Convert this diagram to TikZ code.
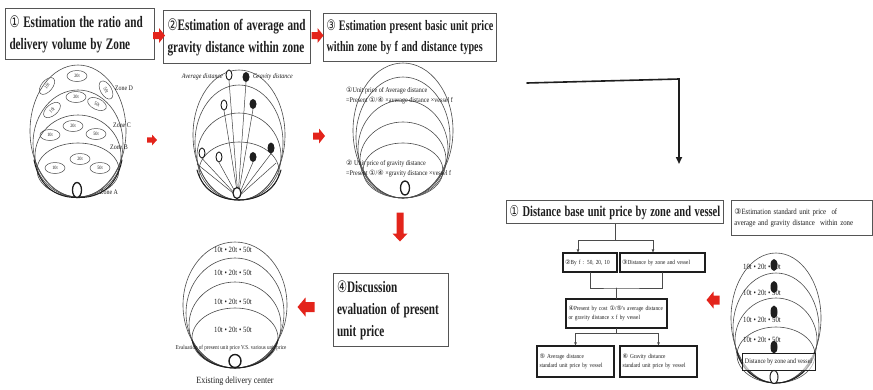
\documentclass[tikz,border=0pt]{standalone}
\usepackage{fontspec}
\usepackage{graphicx}
\setmainfont{Liberation Serif}
\newfontfamily\narrowfont[FakeStretch=0.85]{Liberation Serif}
\newfontfamily\symfont{DejaVu Sans}
\usetikzlibrary{arrows.meta,shapes.geometric}
\definecolor{arrowred}{HTML}{E3241B}
\definecolor{boxline}{HTML}{555555}
\definecolor{ink}{HTML}{1E1E1E}
% condensed line of heading text
\newcommand\squeeze[1]{\scalebox{0.7}[1]{#1}}
% red block arrow: centre, angle, half length, head half width, shaft half width, head length
\newcommand\redblock[6]{\fill[arrowred,shift={#1},rotate=#2] (-#3,-#5) -- ({#3-#6},-#5) -- ({#3-#6},-#4) -- (#3,0) -- ({#3-#6},#4) -- ({#3-#6},#5) -- (-#3,#5) -- cycle;}
\begin{document}
\begin{tikzpicture}[x=1pt,y=-1pt,line cap=round,
  title/.style={draw=boxline,line width=1pt,fill=white,inner sep=0pt,align=left,text=ink,
    font=\bfseries\fontsize{16}{22}\selectfont},
  note/.style={draw=boxline,line width=0.8pt,fill=white,inner sep=0pt,align=left,text=ink,
    font=\narrowfont\fontsize{8}{11}\selectfont},
  flowbox/.style={draw=ink,line width=1.1pt,fill=white,inner sep=0pt,align=left,text=ink,
    font=\narrowfont\fontsize{6.2}{9}\selectfont},
  zone/.style={draw=ink!80,line width=0.6pt},
  bold zone/.style={draw=ink,line width=1pt},
  zoval/.style={draw=ink!80,line width=0.5pt,ellipse,inner sep=0pt,minimum width=20pt,minimum height=11pt,
    font=\narrowfont\fontsize{5}{5}\selectfont,text=ink},
  lbl/.style={inner sep=0pt,text=ink,font=\narrowfont\fontsize{7}{8}\selectfont},
  tiny/.style={inner sep=0pt,text=ink,align=left,font=\narrowfont\fontsize{7.2}{10}\selectfont},
  tons/.style={inner sep=0pt,text=ink,font=\narrowfont\fontsize{8}{8}\selectfont},
  hollow/.style={draw=ink,line width=0.9pt,fill=white},
  solid/.style={fill=ink},
  ray/.style={draw=ink!85,line width=0.5pt},
  flow/.style={draw=ink!80,line width=0.6pt},
  flowarrow/.style={flow,-{Triangle[length=3pt,width=2.5pt]}},
  turn/.style={draw=ink,line width=1.6pt,-{Triangle[length=7pt,width=6pt]}}]
\useasboundingbox (0,0) rectangle (873,389);

% ---------- step titles ----------
\node[title,minimum width=149pt,minimum height=51pt,text width=141pt,anchor=north west] (b1) at (5,8)
  {\squeeze{{\symfont\mdseries ①} Estimation the ratio and}\\\squeeze{delivery volume by Zone}};
\node[title,minimum width=147pt,minimum height=53pt,text width=139pt,anchor=north west] (b2) at (163,10)
  {\squeeze{{\symfont\mdseries ②}Estimation of average and}\\\squeeze{gravity distance within zone}};
\node[title,minimum width=173pt,minimum height=48pt,text width=167pt,anchor=north west,
  font=\bfseries\fontsize{14.5}{21}\selectfont] (b3) at (323,13)
  {\squeeze{{\symfont\mdseries ③} Estimation present basic unit price}\\\squeeze{within zone by f and distance types}};
\node[title,minimum width=115pt,minimum height=73pt,text width=108pt,anchor=north west] (b4) at (333,273)
  {\squeeze{{\symfont\mdseries ④}Discussion}\\\squeeze{evaluation of present}\\\squeeze{unit price}};
\node[title,line width=1.3pt,minimum width=217pt,minimum height=23pt,text width=211pt,anchor=north west,
  font=\bfseries\fontsize{15}{18}\selectfont] (b5) at (506,200)
  {\squeeze{{\symfont\mdseries ①} Distance base unit price by zone and vessel}};
\node[note,minimum width=141pt,minimum height=35pt,text width=135pt,anchor=north west] (b6) at (731,200)
  {\mbox{{\symfont ③}Estimation standard unit price \ of}\\\mbox{average and gravity distance \ within zone}};

% ---------- red block arrows ----------
\redblock{(159,35.5)}{0}{6}{7.5}{3.5}{6}
\redblock{(317.5,35.5)}{0}{6}{7.5}{3.5}{6}
\redblock{(152,140)}{0}{5}{5.5}{2.7}{5}
\redblock{(319,136)}{0}{6}{7.5}{3.5}{6}
\redblock{(400,227)}{-90}{14.5}{7.5}{3.5}{8}
\redblock{(306,307)}{180}{8.5}{9.5}{5}{8}
\redblock{(713,300)}{180}{6.5}{8.5}{4.5}{7}

% ---------- zones and lots by vessel size ----------
\draw[zone] (78,131) ellipse [x radius=48pt,y radius=66pt];
\draw[zone] (78,143.5) ellipse [x radius=45pt,y radius=53.5pt];
\draw[zone] (78,156) ellipse [x radius=43pt,y radius=41pt];
\draw[zone] (78,170) ellipse [x radius=41pt,y radius=27pt];
\draw[bold zone] (34,160) .. controls (40,190) and (60,198) .. (78,197.5) .. controls (96,198) and (116,190) .. (122,160);
\node[zoval,rotate=50] (d10) at (47,86) {10t};
\node[zoval] (d20) at (77,76) {20t};
\node[zoval,rotate=-60] (d50) at (106,90) {50t};
\node[zoval,rotate=40] (c10) at (52,110) {10t};
\node[zoval] (c20) at (76,97) {20t};
\node[zoval,rotate=-25] (c50) at (97,104) {50t};
\node[zoval] (bb10) at (50,135) {10t};
\node[zoval] (bb20) at (73,126) {20t};
\node[zoval] (bb50) at (96,134) {50t};
\node[zoval] (a10) at (55,168) {10t};
\node[zoval] (a20) at (80,159) {20t};
\node[zoval] (a50) at (100,168) {50t};
\node[lbl] (zd) at (124,88) {Zone D};
\node[lbl] (zc) at (122,125) {Zone C};
\node[lbl] (zb) at (119,147) {Zone B};
\node[lbl] (za) at (109,192) {Zone A};
\draw[line width=1.3pt,draw=ink,fill=white] (77,190) ellipse [x radius=4.5pt,y radius=7.5pt];

% ---------- average and gravity distance ----------
\draw[zone] (239,135) ellipse [x radius=46pt,y radius=65pt];
\draw[zone] (239,142.5) ellipse [x radius=44pt,y radius=57.5pt];
\draw[zone] (239,156.5) ellipse [x radius=42pt,y radius=43.5pt];
\draw[zone] (239,171) ellipse [x radius=40pt,y radius=29pt];
\draw[bold zone] (197,170) .. controls (203,192) and (222,200) .. (239,200) .. controls (256,200) and (275,192) .. (281,170);
\coordinate (dc) at (238,197);
\node[hollow,ellipse,inner sep=0pt,minimum width=6pt,minimum height=10pt] (h1) at (229,75) {};
\node[solid,ellipse,inner sep=0pt,minimum width=7pt,minimum height=10pt] (s1) at (246,77) {};
\node[hollow,ellipse,inner sep=0pt,minimum width=6pt,minimum height=10pt] (h2) at (224,105) {};
\node[solid,ellipse,inner sep=0pt,minimum width=7pt,minimum height=10pt] (s2) at (253,104) {};
\node[hollow,ellipse,inner sep=0pt,minimum width=6pt,minimum height=10pt] (h3) at (202,153) {};
\node[hollow,ellipse,inner sep=0pt,minimum width=6pt,minimum height=10pt] (h4) at (219,157) {};
\node[solid,ellipse,inner sep=0pt,minimum width=7pt,minimum height=10pt] (s3) at (253,157) {};
\node[solid,ellipse,inner sep=0pt,minimum width=7pt,minimum height=11pt] (s4) at (271,148) {};
\foreach \m in {h1,s1,h2,s2,h3,h4,s3,s4} \draw[ray] (dc) -- (\m.south);
\coordinate (rl) at (197,164);
\coordinate (rr) at (276,163);
\draw[ray] (dc) -- (rl);
\draw[ray] (dc) -- (rr);
\draw[line width=1.2pt,draw=ink,fill=white] (237,193) ellipse [x radius=4pt,y radius=5.5pt];
\node[lbl,font=\narrowfont\itshape\fontsize{7}{8}\selectfont,anchor=east] (avgl) at (223,77) {Average distance};
\node[lbl,font=\narrowfont\itshape\fontsize{7}{8}\selectfont,anchor=west] (grvl) at (253,77) {Gravity distance};

% ---------- present unit price by distance type ----------
\draw[zone] (403,130.5) ellipse [x radius=50pt,y radius=67.5pt];
\draw[zone] (403,137.5) ellipse [x radius=47pt,y radius=60.5pt];
\draw[zone] (403,149) ellipse [x radius=45pt,y radius=49pt];
\draw[zone] (403,160) ellipse [x radius=43pt,y radius=38pt];
\draw[zone] (403,170.5) ellipse [x radius=40pt,y radius=27.5pt];
\node[tiny,anchor=north west] (avgtxt) at (346,87)
  {{\symfont ①}Unit price of Average distance\\=Present {\symfont ①}/{\symfont ④} ×average distance ×vessel f};
\node[tiny,anchor=north west] (grvtxt) at (346,160)
  {{\symfont ②} Unit price of gravity distance\\=Present {\symfont ①}/{\symfont ④} ×gravity distance ×vessel f};
\draw[line width=1.3pt,draw=ink,fill=white] (405,188) ellipse [x radius=4.5pt,y radius=7pt];

% ---------- evaluation against the existing centre ----------
\draw[zone] (235,305) ellipse [x radius=52pt,y radius=63pt];
\draw[zone] (235,313) ellipse [x radius=49pt,y radius=55pt];
\draw[zone] (235,325) ellipse [x radius=46pt,y radius=43pt];
\draw[zone] (235,338) ellipse [x radius=43pt,y radius=30pt];
\draw[bold zone] (192,340) .. controls (198,360) and (218,368) .. (235,368) .. controls (252,368) and (272,360) .. (278,340);
\node[tons] (e1) at (233,250) {10t • 20t • 50t};
\node[tons] (e2) at (233,273) {10t • 20t • 50t};
\node[tons] (e3) at (233,302) {10t • 20t • 50t};
\node[tons] (e4) at (233,330) {10t • 20t • 50t};
\node[tons,font=\narrowfont\fontsize{6}{7}\selectfont] (evtxt) at (231,348) {Evaluation of present unit price V.S. various unit price};
\draw[line width=1.4pt,draw=ink,fill=white] (235,361) ellipse [x radius=6pt,y radius=6.5pt];
\node[lbl,font=\narrowfont\fontsize{9.5}{10}\selectfont] (exist) at (235,381) {Existing delivery center};

% ---------- turn towards the standard price ----------
\coordinate (tl) at (527,83);
\coordinate (tc) at (679,79);
\coordinate (tb) at (679,164);
\draw[turn] (tl) -- (tc) -- (tb);

% ---------- standard unit price flow ----------
\node[flowbox,minimum width=54pt,minimum height=19pt,text width=50pt] (fa) at (590,262.5)
  {\mbox{{\symfont ②}By f : 50, 20, 10}};
\node[flowbox,minimum width=85pt,minimum height=19pt,text width=81pt] (fb) at (662.5,262.5)
  {\mbox{{\symfont ③}Distance by zone and vessel}};
\node[flowbox,minimum width=101pt,minimum height=29pt,text width=96pt] (fc) at (616.5,313.5)
  {\mbox{{\symfont ④}Present by cost {\symfont ①}/{\symfont ⑤}'s average distance}\\\mbox{or gravity distance x f by vessel}};
\node[flowbox,minimum width=77pt,minimum height=31pt,text width=72pt] (fd) at (575.5,361.5)
  {\mbox{{\symfont ⑤} Average distance}\\\mbox{standard unit price by vessel}};
\node[flowbox,minimum width=77pt,minimum height=31pt,text width=72pt] (fe) at (658.5,361.5)
  {\mbox{{\symfont ⑥} Gravity distance}\\\mbox{standard unit price by vessel}};
\coordinate (j1) at (615,240);
\coordinate (j2) at (616.5,288);
\coordinate (j3) at (616.5,333);
\draw[flow] (b5.south -| j1) -- (j1);
\draw[flowarrow] (j1) -| ([xshift=-12pt]fa.north);
\draw[flowarrow] (j1) -| ([xshift=-9.5pt]fb.north);
\draw[flow] (fa.south) |- (j2) -| (fb.south);
\draw[flow] (j2) -- (fc.north);
\draw[flow] (fc.south) -- (j3);
\draw[flowarrow] (j3) -| (fd.north);
\draw[flowarrow] (j3) -| (fe.north);

% ---------- standard price by zone and vessel ----------
\draw[zone] (776,318) ellipse [x radius=45pt,y radius=65pt];
\draw[zone] (776,328) ellipse [x radius=43pt,y radius=55pt];
\draw[zone] (776,340.5) ellipse [x radius=41pt,y radius=42.5pt];
\draw[zone] (776,355) ellipse [x radius=39pt,y radius=28pt];
\draw[bold zone] (737,352) .. controls (743,373) and (760,383) .. (776,383) .. controls (792,383) and (809,373) .. (815,352);
\node[tons] (r1) at (762,267) {10t • 20t • 50t};
\node[tons] (r2) at (762,293) {10t • 20t • 50t};
\node[tons] (r3) at (762,320) {10t • 20t • 50t};
\node[tons] (r4) at (762,340) {10t • 20t • 50t};
\node[solid,ellipse,inner sep=0pt,minimum width=7pt,minimum height=12pt] (k1) at (774,265) {};
\node[solid,ellipse,inner sep=0pt,minimum width=7pt,minimum height=12pt] (k2) at (774,287) {};
\node[solid,ellipse,inner sep=0pt,minimum width=7pt,minimum height=13pt] (k3) at (774,312) {};
\node[solid,ellipse,inner sep=0pt,minimum width=7pt,minimum height=13pt] (k4) at (774,347) {};
\node[draw=ink,line width=0.8pt,fill=white,fill opacity=0.6,text opacity=1,inner sep=0pt,minimum width=73pt,minimum height=17pt,
  text=ink,font=\narrowfont\fontsize{7}{8}\selectfont] (dz) at (778.5,361.5) {Distance by zone and vessel};
\draw[line width=1pt,draw=ink,fill=white] (774,377) ellipse [x radius=4pt,y radius=6.5pt];
\end{tikzpicture}
\end{document}
